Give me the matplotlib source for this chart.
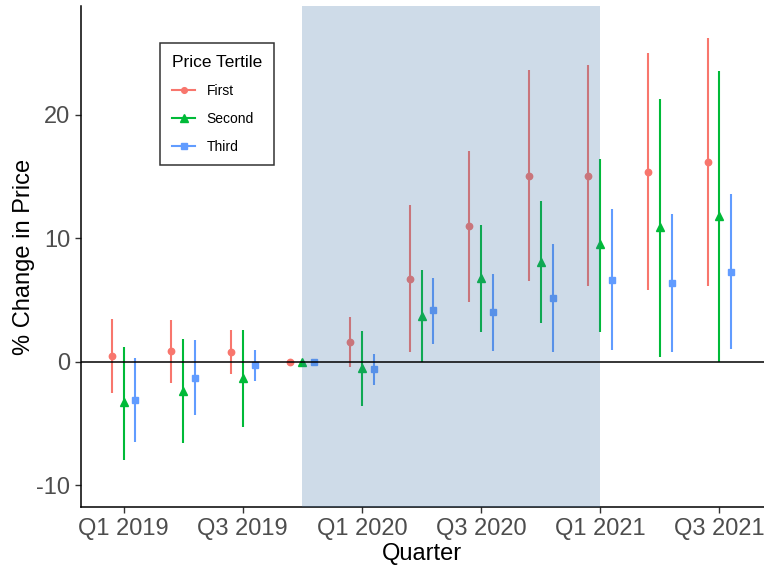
import numpy as np
import matplotlib
matplotlib.use("Agg")
import matplotlib.pyplot as plt
from matplotlib.lines import Line2D

plt.rcParams['font.family'] = ['Liberation Sans', 'DejaVu Sans']
plt.rcParams['axes.unicode_minus'] = False

# ---- data ----
quarters = ["Q1 2019", "Q2 2019", "Q3 2019", "Q4 2019", "Q1 2020", "Q2 2020",
            "Q3 2020", "Q4 2020", "Q1 2021", "Q2 2021", "Q3 2021"]
tick_labels = ["Q1 2019", "Q3 2019", "Q1 2020", "Q3 2020", "Q1 2021", "Q3 2021"]

first_est = [0.45, 0.85, 0.8, 0.0, 1.6, 6.7, 10.95, 15.05, 15.05, 15.4, 16.2]
first_lo = [-2.55, -1.7, -1.0, 0.0, -0.45, 0.8, 4.8, 6.5, 6.1, 5.8, 6.15]
first_hi = [3.45, 3.4, 2.55, 0.0, 3.65, 12.65, 17.1, 23.6, 24.0, 25.0, 26.25]

second_est = [-3.3, -2.35, -1.35, 0.0, -0.5, 3.7, 6.75, 8.1, 9.5, 10.9, 11.8]
second_lo = [-7.95, -6.6, -5.3, 0.0, -3.6, 0.0, 2.4, 3.1, 2.4, 0.4, 0.0]
second_hi = [1.2, 1.85, 2.55, 0.0, 2.5, 7.45, 11.1, 13.0, 16.45, 21.3, 23.5]

third_est = [-3.1, -1.3, -0.3, 0.0, -0.6, 4.15, 4.0, 5.15, 6.65, 6.4, 7.3]
third_lo = [-6.5, -4.35, -1.55, 0.0, -1.85, 1.45, 0.85, 0.75, 0.95, 0.8, 1.0]
third_hi = [0.3, 1.75, 0.95, 0.0, 0.6, 6.8, 7.1, 9.55, 12.4, 12.0, 13.55]

series = [
    ("First", first_est, first_lo, first_hi, "#F8766D", "o", 4.6),
    ("Second", second_est, second_lo, second_hi, "#00BA38", "^", 5.8),
    ("Third", third_est, third_lo, third_hi, "#619CFF", "s", 4.6),
]
dodge = [-0.2, 0.0, 0.2]

fig = plt.figure(figsize=(7.64, 5.67), dpi=100)
ax = fig.add_axes([0.1056, 0.105, 0.8938, 0.8844])

x = np.arange(len(quarters))
for (name, est, lo, hi, col, mk, ms), d in zip(series, dodge):
    xs = x + d
    ax.vlines(xs, lo, hi, color=col, lw=1.5, zorder=2)
    ax.plot(xs, est, ls="none", marker=mk, ms=ms, color=col, mec=col, zorder=3)

# shaded pandemic period drawn over the marks
ax.axvspan(3, 8, color="#3F73A7", alpha=0.25, lw=0, zorder=4)
ax.axhline(0, color="black", lw=1.1, zorder=5)

ax.set_xlim(-0.72, 10.74)
ax.set_ylim(-11.8, 28.8)
ax.set_xticks([quarters.index(t) for t in tick_labels])
ax.set_xticklabels(tick_labels)
ax.set_yticks([-10, 0, 10, 20])
ax.tick_params(labelsize=17, colors="#4D4D4D", length=4, width=1)
ax.tick_params(axis="both", color="#333333")
for s in ["top", "right"]:
    ax.spines[s].set_visible(False)
for s in ["left", "bottom"]:
    ax.spines[s].set_linewidth(1.1)
ax.set_xlabel("Quarter", fontsize=17, labelpad=2)
ax.set_ylabel("% Change in Price", fontsize=17)
ax.yaxis.set_label_coords(-0.067, 0.5)

handles = [Line2D([0], [0], color=col, lw=1.5, marker=mk, ms=ms - 0.5)
           for (name, est, lo, hi, col, mk, ms) in series]
labels = [s[0] for s in series]
leg = ax.legend(handles, labels, title="Price Tertile", loc="upper left",
                bbox_to_anchor=(0.1161, 0.926), fontsize=10, title_fontsize=12.5,
                frameon=True, fancybox=False, edgecolor="black",
                handlelength=1.7, labelspacing=1.0, borderpad=0.85,
                borderaxespad=0, alignment="left")
leg.get_frame().set_linewidth(1.1)
leg.set_zorder(10)

fig.savefig("out.png", dpi=100)
